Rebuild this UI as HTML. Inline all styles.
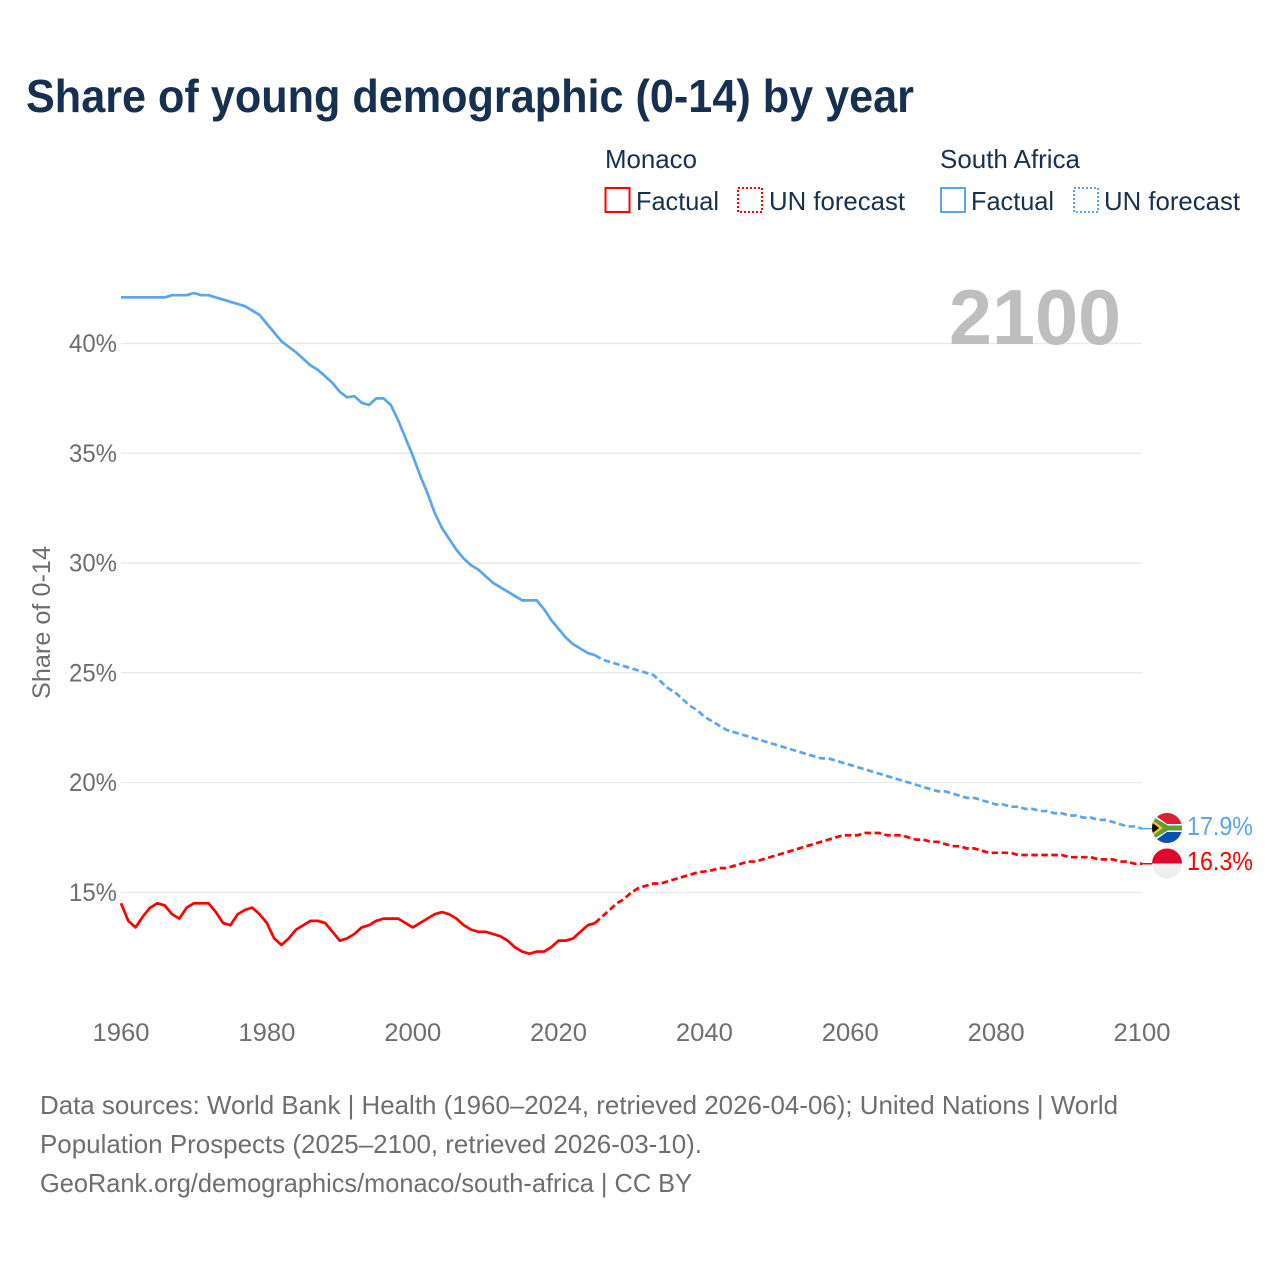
<!DOCTYPE html>
<html lang="en">
<head>
<meta charset="utf-8">
<title>Share of young demographic (0-14) by year</title>
<style>
html,body{margin:0;padding:0;background:#fff;}
svg{display:block;font-family:"Liberation Sans",sans-serif;}
</style>
</head>
<body>
<svg id="chart" xmlns="http://www.w3.org/2000/svg" width="1280" height="1280" viewBox="0 0 1280 1280">
  <rect width="1280" height="1280" fill="#fff"/>
  <defs>
    <clipPath id="clip-sa"><circle cx="1167" cy="828" r="15"/></clipPath>
    <clipPath id="clip-mc"><circle cx="1167" cy="863.5" r="15"/></clipPath>
  </defs>
  <text x="26" y="112" font-size="46" font-weight="700" fill="#18304f" textLength="888" lengthAdjust="spacingAndGlyphs">Share of young demographic (0-14) by year</text>

  <g fill="#18304f" font-size="26">
    <text x="605" y="168" textLength="92" lengthAdjust="spacingAndGlyphs">Monaco</text>
    <rect x="605.5" y="188" width="24" height="24" fill="none" stroke="#ff0000" stroke-width="2"/>
    <text x="636" y="210" textLength="83" lengthAdjust="spacingAndGlyphs">Factual</text>
    <rect x="738" y="188" width="24" height="24" fill="none" stroke="#ff0000" stroke-width="2" stroke-dasharray="2 2"/>
    <text x="769" y="210" textLength="136" lengthAdjust="spacingAndGlyphs">UN forecast</text>
    <text x="940" y="168" textLength="140" lengthAdjust="spacingAndGlyphs">South Africa</text>
    <rect x="941" y="188" width="24" height="24" fill="none" stroke="#5ba4ee" stroke-width="2"/>
    <text x="971" y="210" textLength="83" lengthAdjust="spacingAndGlyphs">Factual</text>
    <rect x="1074" y="188" width="24" height="24" fill="none" stroke="#5ba4ee" stroke-width="2" stroke-dasharray="2 2"/>
    <text x="1104" y="210" textLength="136" lengthAdjust="spacingAndGlyphs">UN forecast</text>
  </g>

  <text transform="translate(50,699) rotate(-90)" font-size="25" fill="#6e6e6e" textLength="153" lengthAdjust="spacingAndGlyphs">Share of 0-14</text>
  <g id="grid"></g>
  <g id="yticks"></g>
  <g id="xticks"></g>
  <text x="949" y="344" font-size="78" font-weight="700" fill="#bebebe" textLength="172" lengthAdjust="spacingAndGlyphs">2100</text>
  <g id="series"></g>

  <g clip-path="url(#clip-sa)">
    <rect x="1150" y="811" width="34" height="17" fill="#de1f35"/>
    <rect x="1150" y="828" width="34" height="17" fill="#0a4fb5"/>
    <path d="M1150 811 L1167 828 L1150 845 Z" fill="#f4c430"/>
    <path d="M1150 812 L1167 824 H1184 V832 H1167 L1150 844 Z" fill="#fff"/>
    <path d="M1150 815 L1168 825.500 H1184 V830.500 H1168 L1150 841 Z" fill="#5c9e31"/>
    <path d="M1150 818 L1163 828 L1150 838 Z" fill="#f4c430"/>
    <path d="M1150 821 L1159 828 L1150 835 Z" fill="#000"/>
  </g>
  <g clip-path="url(#clip-mc)">
    <rect x="1150" y="848" width="34" height="15.500" fill="#e2062c"/>
    <rect x="1150" y="863.500" width="34" height="16" fill="#eeeeee"/>
  </g>
  <text x="1187" y="835" font-size="26" fill="#5ba4ee" textLength="66" lengthAdjust="spacingAndGlyphs">17.9%</text>
  <text x="1187" y="870" font-size="26" fill="#ff0000" textLength="66" lengthAdjust="spacingAndGlyphs">16.3%</text>

  <g font-size="26" fill="#6e6e6e">
    <text x="40" y="1114" textLength="1078" lengthAdjust="spacingAndGlyphs">Data sources: World Bank | Health (1960–2024, retrieved 2026-04-06); United Nations | World</text>
    <text x="40" y="1153" textLength="662" lengthAdjust="spacingAndGlyphs">Population Prospects (2025–2100, retrieved 2026-03-10).</text>
    <text x="40" y="1192" textLength="652" lengthAdjust="spacingAndGlyphs">GeoRank.org/demographics/monaco/south-africa | CC BY</text>
  </g>
</svg>
<script>
const yTicks = [15, 20, 25, 30, 35, 40];
const xTicks = [1960, 1980, 2000, 2020, 2040, 2060, 2080, 2100];
const factualStart = 1960;
const forecastStart = 2025;
const southAfricaFactual = [42.1,42.1,42.1,42.1,42.1,42.1,42.1,42.2,42.2,42.2,42.3,42.2,42.2,42.1,42.0,41.9,41.8,41.7,41.5,41.3,40.9,40.5,40.1,39.85,39.6,39.3,39.0,38.8,38.5,38.2,37.8,37.55,37.6,37.3,37.2,37.5,37.5,37.2,36.5,35.7,34.9,34.0,33.2,32.3,31.6,31.1,30.6,30.2,29.9,29.7,29.4,29.1,28.9,28.7,28.5,28.3,28.3,28.3,27.9,27.4,27.0,26.6,26.3,26.1,25.9,25.8];
const southAfricaForecast = [25.8,25.6,25.5,25.4,25.3,25.2,25.1,25.0,24.9,24.6,24.3,24.1,23.8,23.5,23.3,23.0,22.8,22.6,22.4,22.3,22.2,22.1,22.0,21.9,21.8,21.7,21.6,21.5,21.4,21.3,21.2,21.1,21.1,21.0,20.9,20.8,20.7,20.6,20.5,20.4,20.3,20.2,20.1,20.0,19.9,19.8,19.7,19.6,19.6,19.5,19.4,19.3,19.3,19.2,19.1,19.0,19.0,18.9,18.9,18.8,18.8,18.7,18.7,18.6,18.6,18.5,18.5,18.4,18.4,18.3,18.3,18.2,18.1,18.0,18.0,17.9];
const monacoFactual = [14.5,13.7,13.4,13.9,14.3,14.5,14.4,14.0,13.8,14.3,14.5,14.5,14.5,14.1,13.6,13.5,14.0,14.2,14.3,14.0,13.6,12.9,12.6,12.9,13.3,13.5,13.7,13.7,13.6,13.2,12.8,12.9,13.1,13.4,13.5,13.7,13.8,13.8,13.8,13.6,13.4,13.6,13.8,14.0,14.1,14.0,13.8,13.5,13.3,13.2,13.2,13.1,13.0,12.8,12.5,12.3,12.2,12.3,12.3,12.5,12.8,12.8,12.9,13.2,13.5,13.6];
const monacoForecast = [13.6,13.9,14.2,14.5,14.7,15.0,15.2,15.3,15.4,15.4,15.5,15.6,15.7,15.8,15.9,15.95,16.0,16.1,16.1,16.2,16.3,16.4,16.4,16.5,16.6,16.7,16.8,16.9,17.0,17.1,17.2,17.3,17.4,17.5,17.6,17.6,17.6,17.7,17.7,17.7,17.6,17.6,17.6,17.5,17.4,17.4,17.3,17.3,17.2,17.1,17.1,17.0,17.0,16.9,16.8,16.8,16.8,16.8,16.7,16.7,16.7,16.7,16.7,16.7,16.7,16.6,16.6,16.6,16.6,16.5,16.5,16.5,16.4,16.4,16.3,16.3];

const SVG_NS = 'http://www.w3.org/2000/svg';
const RED = '#ff0000';
const BLUE = '#5ba4ee';
function xScale(year) { return 121 + (year - 1960) * (1142 - 121) / 140; }
function yScale(value) { return 892.3 - (value - 15) * (892.3 - 343.5) / 25; }

const grid = document.getElementById('grid');
const yGroup = document.getElementById('yticks');
const xGroup = document.getElementById('xticks');
const seriesGroup = document.getElementById('series');

yTicks.forEach(function (tick) {
  const line = document.createElementNS(SVG_NS, 'line');
  
  
  line.setAttribute('x1', xScale(1960));
  line.setAttribute('x2', xScale(2100));
  line.setAttribute('y1', yScale(tick));
  line.setAttribute('y2', yScale(tick));
  line.setAttribute('stroke', '#e8e8e8');
  line.setAttribute('stroke-width', '1.2');
  grid.appendChild(line);
  const label = document.createElementNS(SVG_NS, 'text');
  
  
  label.setAttribute('x', 117);
  label.setAttribute('y', yScale(tick) + 8.5);
  label.setAttribute('text-anchor', 'end');
  label.setAttribute('font-size', '25');
  label.setAttribute('fill', '#6e6e6e');
  label.setAttribute('textLength', '48');
  label.setAttribute('lengthAdjust', 'spacingAndGlyphs');
  label.textContent = tick + '%';
  yGroup.appendChild(label);
});

xTicks.forEach(function (tick) {
  const label = document.createElementNS(SVG_NS, 'text');
  
  
  label.setAttribute('x', xScale(tick));
  label.setAttribute('y', 1041);
  label.setAttribute('text-anchor', 'middle');
  label.setAttribute('font-size', '25');
  label.setAttribute('fill', '#6e6e6e');
  label.setAttribute('textLength', '57');
  label.setAttribute('lengthAdjust', 'spacingAndGlyphs');
  label.textContent = tick;
  xGroup.appendChild(label);
});

function linePoints(values, startYear) {
  return values.map(function (v, i) {
    return xScale(startYear + i).toFixed(2) + ',' + yScale(v).toFixed(2);
  }).join(' ');
}

function drawSeries(values, startYear, color, dashed, name) {
  const path = document.createElementNS(SVG_NS, 'polyline');
  
  
  path.setAttribute('points', linePoints(values, startYear));
  path.setAttribute('fill', 'none');
  path.setAttribute('stroke', color);
  path.setAttribute('stroke-width', '2.7');
  path.setAttribute('stroke-linejoin', 'round');
  if (dashed) path.setAttribute('stroke-dasharray', '6.5 3.5');
  seriesGroup.appendChild(path);
}

function drawConnector(value, color, name) {
  const line = document.createElementNS(SVG_NS, 'line');
  
  
  line.setAttribute('x1', xScale(2100) - 2);
  line.setAttribute('x2', 1153);
  line.setAttribute('y1', yScale(value));
  line.setAttribute('y2', yScale(value));
  line.setAttribute('stroke', color);
  line.setAttribute('stroke-width', '1.5');
  seriesGroup.appendChild(line);
}

drawSeries(southAfricaFactual, factualStart, BLUE, false, 'south-africa-factual-line');
drawSeries(southAfricaForecast, forecastStart, BLUE, true, 'south-africa-forecast-line');
drawSeries(monacoFactual, factualStart, RED, false, 'monaco-factual-line');
drawSeries(monacoForecast, forecastStart, RED, true, 'monaco-forecast-line');
drawConnector(southAfricaForecast[southAfricaForecast.length - 1], BLUE, 'south-africa-end-connector');
drawConnector(monacoForecast[monacoForecast.length - 1], RED, 'monaco-end-connector');
</script>
</body>
</html>
